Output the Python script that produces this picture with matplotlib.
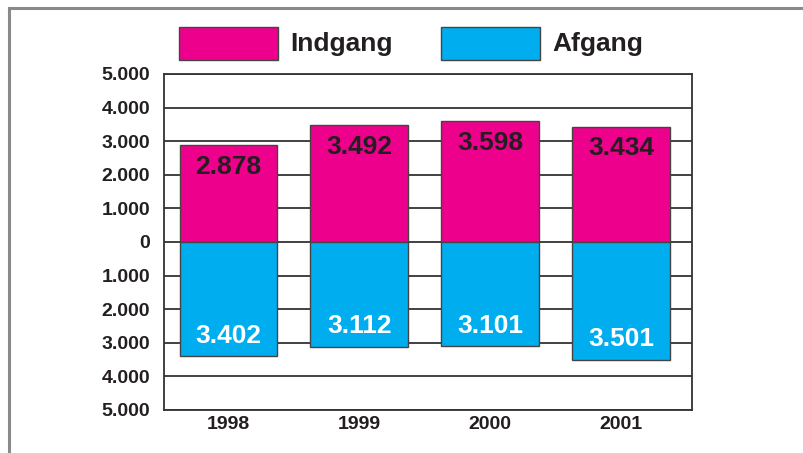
import matplotlib
matplotlib.use("Agg")
import matplotlib.pyplot as plt
from matplotlib.patches import Rectangle
from matplotlib.lines import Line2D

years = ["1998", "1999", "2000", "2001"]
indgang = [2878, 3492, 3598, 3434]
afgang = [3402, 3112, 3101, 3501]
indgang_labels = ["2.878", "3.492", "3.598", "3.434"]
afgang_labels = ["3.402", "3.112", "3.101", "3.501"]
yticks = [-5000, -4000, -3000, -2000, -1000, 0, 1000, 2000, 3000, 4000, 5000]
ytick_labels = ["5.000", "4.000", "3.000", "2.000", "1.000", "0",
                "1.000", "2.000", "3.000", "4.000", "5.000"]

PINK = "#EC008C"
BLUE = "#00AEEF"
DARK = "#231F20"
plt.rcParams['font.family'] = ['Liberation Sans', 'DejaVu Sans']

fig = plt.figure(figsize=(8.04, 4.53), dpi=100)
ax = fig.add_axes([164/804, 43/453, 528/804, 336/453])

x = list(range(len(years)))
w = 0.746
ax.bar(x, indgang, width=w, color=PINK, edgecolor="#444444", linewidth=1.0, zorder=3)
ax.bar(x, [-v for v in afgang], width=w, color=BLUE, edgecolor="#444444", linewidth=1.0, zorder=3)

for i in x:
    ax.text(i, indgang[i] - 650, indgang_labels[i], ha="center", va="center",
            fontsize=19, fontweight="bold", color=DARK, zorder=4)
    ax.text(i, -afgang[i] + 600, afgang_labels[i], ha="center", va="center",
            fontsize=19, fontweight="bold", color="white", zorder=4)

ax.set_xlim(-0.492, 3.542)
ax.set_ylim(-5000, 5000)
ax.set_yticks(yticks)
ax.set_yticklabels(ytick_labels, fontsize=14, fontweight="bold", color=DARK)
ax.set_xticks(x)
ax.set_xticklabels(years, fontsize=14, fontweight="bold", color=DARK)
ax.tick_params(length=0, pad=10, axis="y")
ax.tick_params(length=0, pad=4, axis="x")
for t in yticks:
    ax.axhline(t, color="#333333", linewidth=1.3, zorder=1)
for s in ax.spines.values():
    s.set_color("#333333")
    s.set_linewidth(1.3)

# legend
fig.patches.append(Rectangle((179/804, 1 - 60/453), 99/804, 33/453, transform=fig.transFigure,
                             facecolor=PINK, edgecolor="#444444", linewidth=1.0))
fig.patches.append(Rectangle((441/804, 1 - 60/453), 99/804, 33/453, transform=fig.transFigure,
                             facecolor=BLUE, edgecolor="#444444", linewidth=1.0))
fig.text(290/804, 1 - 44/453, "Indgang", fontsize=19, fontweight="bold", color=DARK, va="center")
fig.text(552/804, 1 - 44/453, "Afgang", fontsize=19, fontweight="bold", color=DARK, va="center")

# outer frame
fig.lines.append(Line2D([9/804, 9/804], [0, 1 - 8/453], transform=fig.transFigure,
                        color="#8a8a8a", linewidth=2.2))
fig.lines.append(Line2D([9/804, 1], [1 - 8/453, 1 - 8/453], transform=fig.transFigure,
                        color="#8a8a8a", linewidth=2.2))

fig.savefig("out.png", dpi=100)
